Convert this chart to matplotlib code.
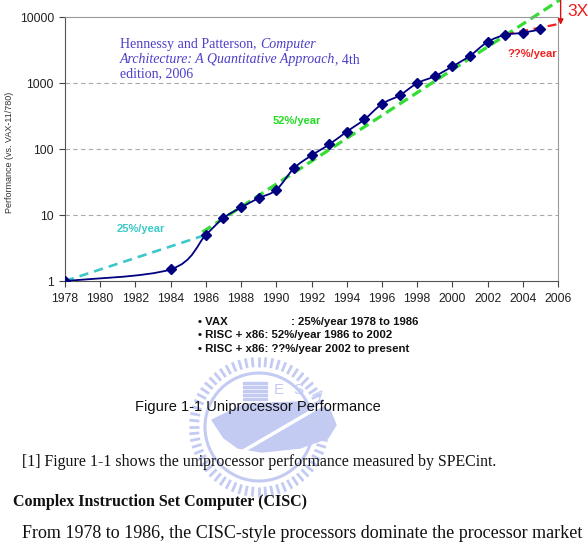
import numpy as np
import matplotlib
matplotlib.use('Agg')
import matplotlib.pyplot as plt
from matplotlib.path import Path
from matplotlib.patches import PathPatch, Circle, Rectangle, Polygon
from matplotlib.ticker import NullLocator, FixedLocator, FixedFormatter

# data (SPECint relative to VAX-11/780)
years = [1978, 1984, 1986, 1987, 1988, 1989, 1990, 1991, 1992, 1993, 1994,
         1995, 1996, 1997, 1998, 1999, 2000, 2001, 2002, 2003, 2004, 2005]
perf = [1, 1.5, 5, 9, 13, 18, 24, 51, 80, 117, 183, 280, 481, 649, 993,
        1267, 1779, 2584, 4195, 5364, 5764, 6505]

# trend lines (start, end)
vax_x, vax_y = [1978, 1986], [1, 5]
risc_x, risc_y = [1985.8, 2006.1], [5.5, 18100]
late_x, late_y = [2003, 2006.1], [5400, 7900]

xticks = list(range(1978, 2007, 2))
yticks = [1, 10, 100, 1000, 10000]
ytick_labels = ['1', '10', '100', '1000', '10000']

plt.rcParams['font.family'] = ['Liberation Sans', 'DejaVu Sans']
serif = ['Liberation Serif', 'DejaVu Serif']

W, H = 588, 556
fig = plt.figure(figsize=(W / 100, H / 100), dpi=100)
renderer = fig.canvas.get_renderer()

# background layer in pixel coords (watermark + page text)
bg = fig.add_axes([0, 0, 1, 1], zorder=0)
bg.set_xlim(0, W)
bg.set_ylim(H, 0)
bg.axis('off')

# faint logo watermark
lc = '#c4cbf3'
cx, cy = 259, 427
for a in np.linspace(0, 2 * np.pi, 64, endpoint=False):
    bg.plot([cx + 60 * np.cos(a), cx + 70 * np.cos(a)],
            [cy + 60 * np.sin(a), cy + 70 * np.sin(a)],
            color=lc, lw=2.0, solid_capstyle='butt', zorder=1)
bg.add_patch(Circle((cx, cy), 54, fill=False, ec=lc, lw=2.2, zorder=1))
for i in range(5):
    bg.add_patch(Rectangle((243, 382 + i * 4), 24, 2.2, color=lc, zorder=1))
bg.add_patch(Polygon([(212, 420), (245, 404), (300, 402), (330, 410),
                      (336, 425), (328, 438), (300, 448), (262, 452),
                      (238, 448), (224, 438)], color=lc, zorder=1))
bg.plot([245, 322], [450, 405], color='white', lw=2.5, zorder=1)
bg.text(279, 390, 'E', fontsize=11, color=lc, ha='center', va='center', zorder=1)
bg.text(298, 390, 'S', fontsize=11, color=lc, ha='center', va='center', zorder=1)
bg.text(317, 395, 'A', fontsize=11, color=lc, ha='center', va='center', rotation=-40, zorder=1)

bg.text(10, 152, 'Performance (vs. VAX-11/780)', rotation=90, fontsize=6.5,
        color='#333333', ha='center', va='center')
bg.text(567, 12, '3X', fontsize=12.5, color='#ee1c1c', ha='left', va='center')

leg = dict(fontsize=8.2, weight='bold', color='#111111', va='center', ha='left')
bg.text(198, 322, '\u2022 VAX', **leg)
bg.text(291, 322, ': 25%/year 1978 to 1986', **leg)
bg.text(198, 335, '\u2022 RISC + x86: 52%/year 1986 to 2002', **leg)
bg.text(198, 349, '\u2022 RISC + x86: ??%/year 2002 to present', **leg)

bg.text(135, 407, 'Figure 1-1 Uniprocessor Performance', fontsize=10.5,
        color='#111111', ha='left', va='center')
bg.text(22, 462, '[1] Figure 1-1 shows the uniprocessor performance measured by SPECint.',
        fontsize=11.4, family=serif, color='#111111', ha='left', va='center')
bg.text(13, 502, 'Complex Instruction Set Computer (CISC)', fontsize=11.5,
        family=serif, weight='bold', color='#111111', ha='left', va='center')
last = bg.text(22, 534, 'From 1978 to 1986, the CISC-style processors dominate the processor market',
               fontsize=13.2, family=serif, color='#111111', ha='left', va='center')
wb = last.get_window_extent(renderer)
if wb.x1 > W - 2:
    last.set_fontsize(13.2 * (W - 2 - 22) / wb.width)

# citation, mixed upright / italic runs
cite = [
    (48, [('Hennessy and Patterson, ', 'normal'), ('Computer', 'italic')]),
    (63, [('Architecture: A Quantitative Approach', 'italic'), (', 4th', 'normal')]),
    (77, [('edition, 2006', 'normal')]),
]
for y, parts in cite:
    x = 120
    for s, st in parts:
        t = bg.text(x, y, s, fontsize=10, family=serif, style=st, color='#4b3fc9',
                    ha='left', va='baseline', zorder=5)
        x = t.get_window_extent(renderer).x1

# main chart
ax = fig.add_axes([65 / W, 1 - 281 / H, (558 - 65) / W, (281 - 17) / H], zorder=1)
ax.set_yscale('log')
ax.set_xlim(1978, 2006)
ax.set_ylim(1, 10000)
ax.xaxis.set_major_locator(FixedLocator(xticks))
ax.yaxis.set_major_locator(FixedLocator(yticks))
ax.yaxis.set_major_formatter(FixedFormatter(ytick_labels))
ax.yaxis.set_minor_locator(NullLocator())
ax.tick_params(direction='out', length=4, width=0.8, color='#444444',
               labelsize=8.8, labelcolor='#222222')
ax.tick_params(axis='x', pad=5)
ax.tick_params(axis='y', pad=4)
for s in ['top', 'right']:
    ax.spines[s].set_color('#999999')
for s in ['left', 'bottom']:
    ax.spines[s].set_color('#555555')
for y in yticks[1:-1]:
    ax.axhline(y, color='#aaaaaa', lw=0.8, dashes=(4, 3), zorder=0)
ax.patch.set_alpha(0)

# smoothed line (Excel-style) through the data points
lx = np.array(years, float)
ly = np.log10(perf)
n = len(lx)
verts = [(lx[0], ly[0])]
codes = [Path.MOVETO]
for i in range(n - 1):
    p0 = i - 1 if i > 0 else i
    p3 = i + 2 if i + 2 < n else i + 1
    c1 = (lx[i] + (lx[i + 1] - lx[p0]) / 6, ly[i] + (ly[i + 1] - ly[p0]) / 6)
    c2 = (lx[i + 1] - (lx[p3] - lx[i]) / 6, ly[i + 1] - (ly[p3] - ly[i]) / 6)
    verts += [c1, c2, (lx[i + 1], ly[i + 1])]
    codes += [Path.CURVE4] * 3
verts = [(x, 10 ** y) for x, y in verts]
ax.add_patch(PathPatch(Path(verts, codes), fill=False, ec='#000080', lw=1.3, zorder=3))
ax.plot(years, perf, ls='none', marker='D', ms=5.5, color='#000080', zorder=4)

ax.plot(vax_x, vax_y, color='#3cc8c8', lw=1.9, dashes=(3.5, 2.3), zorder=2)
ax.plot(risc_x, risc_y, color='#33dd33', lw=2.3, dashes=(3.2, 1.7), zorder=2, clip_on=False)
ax.plot(late_x, late_y, color='#ee2222', lw=1.6, dashes=(4, 2.5), zorder=2, clip_on=False)
ax.annotate('', xy=(2006.15, 7600), xytext=(2006.15, 18100),
            arrowprops=dict(arrowstyle='-|>', color='#dd1111', lw=1, mutation_scale=8,
                            shrinkA=0, shrinkB=0), annotation_clip=False)

ax.text(1980.95, 6.1, '25%/year', fontsize=8, weight='bold', color='#3cc8c8', va='center')
ax.text(1989.8, 266, '52%/year', fontsize=8, weight='bold', color='#22dd22', va='center')
ax.text(2003.15, 2750, '??%/year', fontsize=8, weight='bold', color='#ee2222', va='center')

fig.savefig('out.png', dpi=100)
